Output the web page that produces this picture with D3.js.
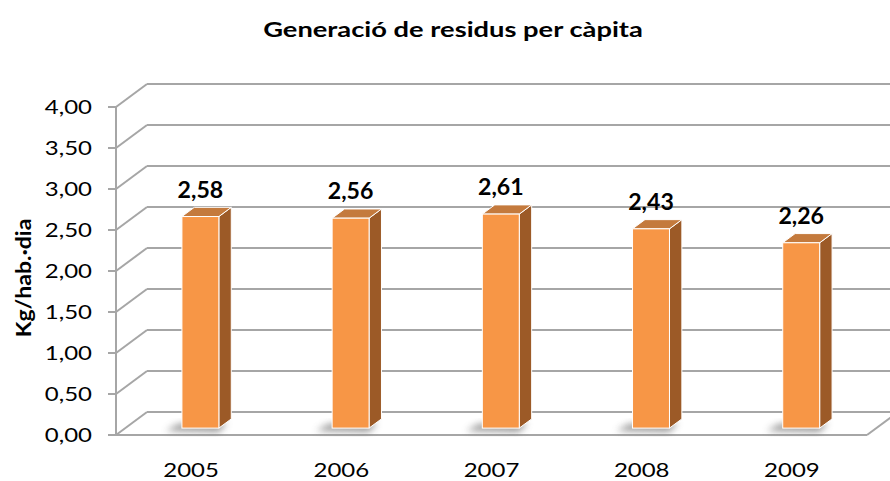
<!DOCTYPE html>
<html>
<head>
<meta charset="utf-8">
<script src="https://cdn.jsdelivr.net/npm/d3@7"></script>
<style>
  html, body { margin: 0; padding: 0; background: #fff; }
  svg { display: block; font-family: Lato, "Open Sans", sans-serif; }
</style>
</head>
<body>
<svg id="chart" width="890" height="481"></svg>
<script>
// Waste generation per inhabitant and day
const years = ["2005", "2006", "2007", "2008", "2009"];
const values = [2.58, 2.56, 2.61, 2.43, 2.26];
const yTicks = [0, 0.5, 1, 1.5, 2, 2.5, 3, 3.5, 4];
const titleText = "Generació de residus per càpita";
const yTitleText = "Kg/hab.·dia";

const fmt = v => d3.format(".2f")(v).replace(".", ",");

const svg = d3.select("#chart");

// 3D projection: depth vector of the floor / walls
const depth = { dx: 31, dy: -23 };
const x0 = 116, x1 = 867;

const x = d3.scaleBand().domain(years).range([x0, x1]).paddingInner(0).paddingOuter(0);
const y = d3.scaleLinear().domain([0, 4]).range([435, 107]);

const gridColor = "#a6a6a6";

// text helper with a horizontal stretch (wide glyph proportions)
function stretchedText(sel, px, py, sx, rot) {
  return sel.attr("transform", d => {
    const X = typeof px === "function" ? px(d) : px;
    const Y = typeof py === "function" ? py(d) : py;
    return `translate(${X},${Y})` + (rot ? ` rotate(${rot})` : "") + ` scale(${sx},1)`;
  });
}

const defs = svg.append("defs");
defs.append("filter").attr("id", "shadowBlur")
  .attr("x", "-50%").attr("y", "-50%").attr("width", "200%").attr("height", "200%")
  .append("feGaussianBlur").attr("stdDeviation", 3.5);

// Back wall gridlines
const grid = svg.append("g");
grid.selectAll("line.back").data(yTicks).join("line")
  .attr("x1", x0 + depth.dx).attr("x2", x1 + depth.dx)
  .attr("y1", d => y(d) + depth.dy).attr("y2", d => y(d) + depth.dy)
  .attr("stroke", gridColor).attr("stroke-width", 2);

// Side wall diagonals
grid.selectAll("line.side").data(yTicks).join("line")
  .attr("x1", x0).attr("y1", d => y(d))
  .attr("x2", x0 + depth.dx).attr("y2", d => y(d) + depth.dy)
  .attr("stroke", gridColor).attr("stroke-width", 2);

// Floor front edge and right edge
grid.append("line")
  .attr("x1", x0).attr("x2", x1).attr("y1", y(0)).attr("y2", y(0))
  .attr("stroke", gridColor).attr("stroke-width", 2);
grid.append("line")
  .attr("x1", x1).attr("y1", y(0)).attr("x2", x1 + depth.dx).attr("y2", y(0) + depth.dy)
  .attr("stroke", gridColor).attr("stroke-width", 2);

// Vertical axis line and ticks
const axisG = svg.append("g");
axisG.append("line")
  .attr("x1", x0).attr("x2", x0).attr("y1", y(0)).attr("y2", y(4))
  .attr("stroke", gridColor).attr("stroke-width", 2);
axisG.selectAll("line.tick").data(yTicks).join("line")
  .attr("x1", x0 - 8).attr("x2", x0).attr("y1", d => y(d)).attr("y2", d => y(d))
  .attr("stroke", gridColor).attr("stroke-width", 2);
stretchedText(
  axisG.selectAll("text").data(yTicks).join("text"),
  92, d => y(d), 1.2)
  .attr("dy", "0.35em")
  .attr("text-anchor", "end")
  .attr("font-size", 20).attr("fill", "#000")
  .text(d => fmt(d));

// Bars
const barW = x.bandwidth() * 0.246;
const fFront = 0.3, fBack = 0.7;
const bars = svg.append("g");
const data = years.map((yr, i) => ({ yr, v: values[i] }));

const barGeom = d => {
  const cx = x(d.yr) + x.bandwidth() / 2 + depth.dx * fFront;
  const bx = cx - barW / 2;
  const by = y(0) + depth.dy * fFront;
  const ty = y(d.v) + depth.dy * fFront;
  const ddx = depth.dx * (fBack - fFront), ddy = depth.dy * (fBack - fFront);
  return { cx, bx, by, ty, ddx, ddy };
};

// Soft shadows on the floor
bars.selectAll("path.shadow").data(data).join("path")
  .attr("d", d => {
    const g = barGeom(d);
    const sx = -16, sy = 3;
    return `M${g.bx + sx},${g.by + sy} L${g.bx + barW},${g.by + sy + 1} L${g.bx + barW + g.ddx - 4},${g.by + g.ddy + 4} L${g.bx + g.ddx + sx},${g.by + g.ddy + sy + 2} Z`;
  })
  .attr("fill", "#777").attr("opacity", 0.75)
  .attr("filter", "url(#shadowBlur)");

// Side faces
bars.selectAll("path.side").data(data).join("path")
  .attr("d", d => {
    const g = barGeom(d);
    const rx = g.bx + barW;
    return `M${rx},${g.by} L${rx + g.ddx},${g.by + g.ddy} L${rx + g.ddx},${g.ty + g.ddy} L${rx},${g.ty} Z`;
  })
  .attr("fill", "#9c5a27").attr("stroke", "#fff").attr("stroke-width", 1).attr("stroke-linejoin", "round");

// Top faces
bars.selectAll("path.top").data(data).join("path")
  .attr("d", d => {
    const g = barGeom(d);
    return `M${g.bx},${g.ty} L${g.bx + barW},${g.ty} L${g.bx + barW + g.ddx},${g.ty + g.ddy} L${g.bx + g.ddx},${g.ty + g.ddy} Z`;
  })
  .attr("fill", "#c47a3d").attr("stroke", "#fff").attr("stroke-width", 1).attr("stroke-linejoin", "round");

// Front faces
bars.selectAll("rect.front").data(data).join("rect")
  .attr("x", d => barGeom(d).bx)
  .attr("y", d => barGeom(d).ty)
  .attr("width", barW)
  .attr("height", d => barGeom(d).by - barGeom(d).ty)
  .attr("fill", "#f79646").attr("stroke", "#fff").attr("stroke-width", 1);

// Value labels
stretchedText(
  bars.selectAll("text.val").data(data).join("text"),
  d => barGeom(d).cx, d => barGeom(d).ty - 19, 1.05)
  .attr("text-anchor", "middle")
  .attr("font-size", 22).attr("font-weight", "bold").attr("fill", "#000")
  .text(d => fmt(d.v));

// Category labels
stretchedText(
  svg.append("g").selectAll("text").data(years).join("text"),
  d => x(d) + x.bandwidth() / 2, 477, 1.2)
  .attr("text-anchor", "middle")
  .attr("font-size", 20).attr("fill", "#000")
  .text(d => d);

// Title
stretchedText(svg.append("text"), 453, 37, 1.3)
  .attr("text-anchor", "middle")
  .attr("font-size", 21).attr("font-weight", "bold").attr("fill", "#000")
  .text(titleText);

// Y axis title
stretchedText(svg.append("text"), 31, 278, 1.15, -90)
  .attr("text-anchor", "middle")
  .attr("font-size", 20).attr("font-weight", "bold").attr("fill", "#000")
  .text(yTitleText);
</script>
</body>
</html>
